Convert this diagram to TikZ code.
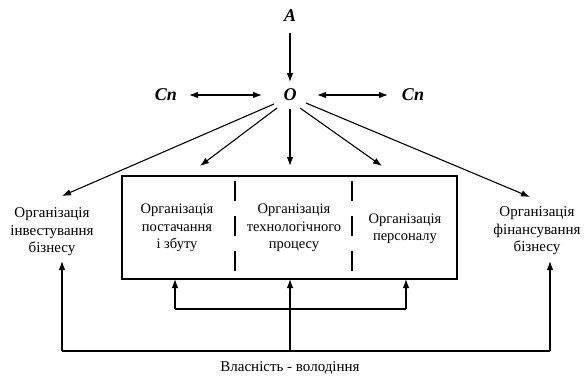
\documentclass[tikz,border=0pt]{standalone}
\usepackage{fontspec}
\setmainfont{Liberation Serif}
\usetikzlibrary{arrows.meta}
\begin{document}
\begin{tikzpicture}[x=1pt,y=-1pt,
  conn/.style={line width=1.1pt,-{Latex[length=9pt,width=6.5pt]}},
  dconn/.style={line width=1.1pt,{Latex[length=9pt,width=6.5pt]}-{Latex[length=9pt,width=6.5pt]}},
  plain/.style={line width=1.1pt},
  lbl/.style={font=\fontsize{14.5}{17.5}\selectfont,align=center,inner sep=0pt},
  big/.style={font=\fontsize{18}{18}\selectfont\bfseries\itshape,inner sep=1pt},
  divider/.style={line width=1.1pt,dash pattern=on 20pt off 15pt}]
\useasboundingbox (0,0) rectangle (584,378);
\node[big] (A) at (290,16) {A};
\node[big] (O) at (290,95) {O};
\node[big] (CL) at (166,95) {Cn};
\node[big] (CR) at (413,95) {Cn};
\coordinate (Atop) at (290,33);
\draw[conn] (Atop) -- (290,82);
\coordinate (cl1) at (189,95); \coordinate (cl2) at (262,95);
\coordinate (cr1) at (317,95); \coordinate (cr2) at (388,95);
\draw[dconn] (cl1) -- (cl2);
\draw[dconn] (cr1) -- (cr2);
% box
\node[draw,line width=1.1pt,minimum width=335pt,minimum height=103pt,inner sep=0pt] (box) at (289.5,227.5) {};
\coordinate (d1t) at (235,181); \coordinate (d1b) at (235,276);
\coordinate (d2t) at (352,181); \coordinate (d2b) at (352,276);
\draw[divider] (d1t) -- (d1b);
\draw[divider] (d2t) -- (d2b);
\node[lbl,font=\fontsize{15}{17.5}\selectfont] (L) at (52,232) {Організація\\інвестування\\бізнесу};
\node[lbl,font=\fontsize{15}{17.5}\selectfont] (R) at (537,231) {Організація\\фінансування\\бізнесу};
\node[lbl] (B1) at (177,228) {Організація\\постачання\\і збуту};
\node[lbl] (B2) at (294,228) {Організація\\технологічного\\процесу};
\node[lbl] (B3) at (405,229) {Організація\\персоналу};
\node[lbl,font=\fontsize{15}{17.5}\selectfont] (V) at (290,368) {Власність - володіння};
% arrows from O
\coordinate (o1) at (274,104); \coordinate (t1) at (62,196);
\coordinate (o2) at (277,108); \coordinate (t2) at (200,166);
\coordinate (o3) at (290,109); \coordinate (t3) at (290,166);
\coordinate (o4) at (300,108); \coordinate (t4) at (382,166);
\coordinate (o5) at (306,103); \coordinate (t5) at (530,197);
\draw[conn] (o1) -- (t1);
\draw[conn] (o2) -- (t2);
\draw[conn] (o3) -- (t3);
\draw[conn] (o4) -- (t4);
\draw[conn] (o5) -- (t5);
% bottom
\coordinate (b1) at (175,309); \coordinate (b2) at (406,309);
\coordinate (c0) at (290,351);
\coordinate (g1) at (62,351); \coordinate (g2) at (550,351);
\draw[plain] (b1) -- (b2);
\draw[conn] (b1) -- (175,279);
\draw[conn] (b2) -- (406,279);
\draw[conn] (c0) -- (290,279);
\draw[plain] (g1) -- (g2);
\draw[conn] (g1) -- (62,261);
\draw[conn] (g2) -- (550,261);
\end{tikzpicture}
\end{document}
